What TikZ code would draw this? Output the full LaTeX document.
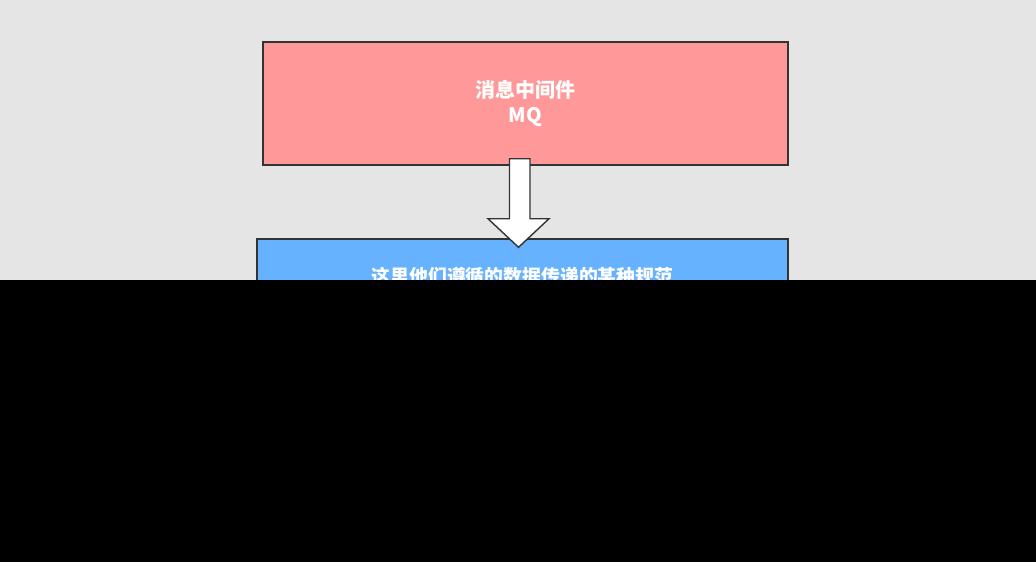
\documentclass[tikz,border=0pt]{standalone}
\usepackage{fontspec}
\usetikzlibrary{calc}
\newfontfamily\cjk{Noto Sans CJK SC}
\definecolor{bgray}{HTML}{E5E5E5}
\definecolor{mqpink}{HTML}{FF9999}
\definecolor{specblue}{HTML}{66B2FF}
\definecolor{edgegray}{HTML}{333333}
\tikzset{
  box/.style={draw=edgegray, line width=1pt, inner sep=0pt, align=center,
    text=white, font=\cjk\bfseries\fontsize{14.2}{17.4}\selectfont},
  blockarrow/.style={draw=edgegray, line width=1pt, fill=white, line join=miter}
}
\begin{document}
\begin{tikzpicture}[x=0.025cm, y=-0.025cm]
            % background
            \fill[bgray] (0,0) rectangle (1036,562);
            \useasboundingbox (0,0) rectangle (1036,562);
            % boxes
            \node[box, fill=mqpink, minimum width=13.125cm, minimum height=3.075cm] (mq) at (525.5,103.5) {消息中间件\\MQ};
            \node[box, fill=specblue, minimum width=13.275cm, minimum height=1.85cm,
              font=\cjk\bfseries\fontsize{13.4}{16}\selectfont] (spec) at (522.5,276) {这里他们遵循的数据传递的某种规范};
            % arrow between the boxes
            \draw[blockarrow] ($(mq.south)+(-16,-7)$) -- ++(20.5,0) -- ++(0,60) -- ++(19,0)
              -- ($(spec.north)+(-4,9)$) -- ($(mq.south)+(-37.5,53)$) -- ++(21.5,0) -- cycle;
            % dark lower part
            \fill[black] (0,280) rectangle (1036,562);
        \end{tikzpicture}
\end{document}
